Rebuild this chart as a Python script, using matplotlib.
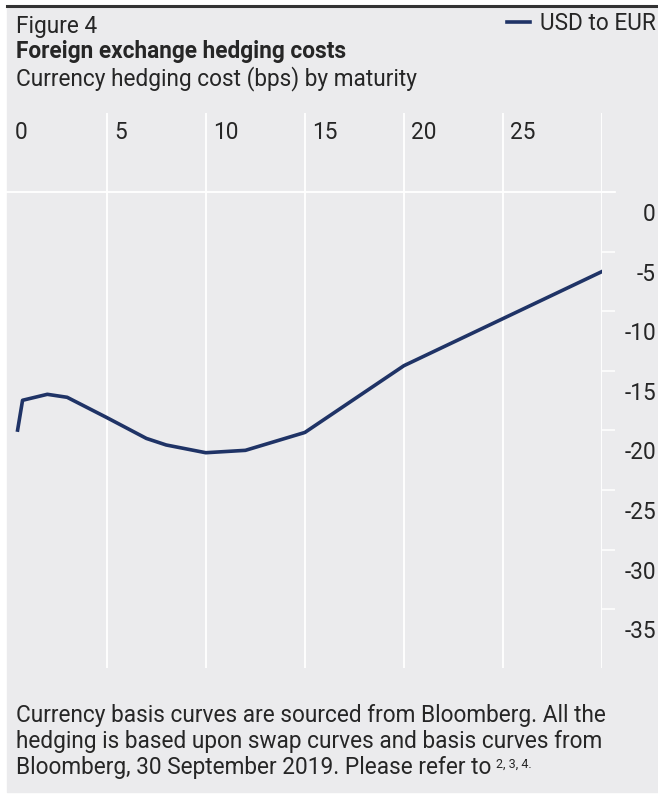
import numpy as np
import matplotlib
matplotlib.use("Agg")
import matplotlib.pyplot as plt
from matplotlib.patches import Rectangle
from matplotlib.lines import Line2D
from matplotlib.transforms import ScaledTranslation

# data
maturity = [0.5, 0.75, 2, 3, 5, 7, 8, 10, 12, 15, 20, 30]
usd_eur = [-18.3, -15.8, -15.3, -15.55, -17.25, -19.0, -19.55, -20.2, -20.0, -18.5, -12.9, -5.0]
series_name = "USD to EUR"
x_ticks = [0, 5, 10, 15, 20, 25, 30]
x_tick_labels = ["0", "5", "10", "15", "20", "25", ""]
y_ticks = [0, -5, -10, -15, -20, -25, -30, -35]

plt.rcParams["font.family"] = ["Roboto", "DejaVu Sans"]
plt.rcParams["axes.unicode_minus"] = False

W, H = 658, 796
BG = "#ebebed"
NAVY = "#1f3366"
TXT = "#262626"
FS = 16.3


def fx(px):
    return px / W


def fy(py):
    return 1 - py / H


fig = plt.figure(figsize=(W / 100, H / 100), dpi=100)

# grey panel and dark rule on top
fig.patches.append(Rectangle((fx(7), fy(792)), 1 - fx(7), fy(7) - fy(792),
                             transform=fig.transFigure, color=BG, zorder=-10))
fig.add_artist(Line2D([fx(7), 1], [fy(5.8), fy(5.8)], color="#333333", lw=2.2))

ax = fig.add_axes([fx(7.7), fy(668), fx(602) - fx(7.7), fy(113) - fy(668)])
ax.set_zorder(1)
ax.set_facecolor("none")
line, = ax.plot(maturity, usd_eur, color=NAVY, lw=2.6, zorder=3)

ax.set_xlim(0, 30)
ax.set_ylim(-38.26, 8.3)
for s in ax.spines.values():
    s.set_visible(False)

# x axis: labels inside the top band
ax.set_xticks(x_ticks)
ax.set_xticklabels(x_tick_labels)
ax.xaxis.tick_top()
ax.tick_params(axis="x", length=0, pad=0, labelsize=FS, labelcolor=TXT)
ax.grid(axis="x", color="white", lw=1.3)
ax.xaxis.get_major_ticks()[0].gridline.set_visible(False)
for lbl in ax.get_xticklabels():
    lbl.set_ha("left")
    lbl.set_va("baseline")
    lbl.set_transform(lbl.get_transform() +
                      ScaledTranslation(7.5 / 100, -26.3 / 100, fig.dpi_scale_trans))

# y axis on the right, tick marks sit between the labels
ax.yaxis.tick_right()
ax.set_yticks(y_ticks)
ax.tick_params(axis="y", which="major", length=0, pad=54 * 0.72,
               labelsize=FS, labelcolor=TXT)
for lbl in ax.get_yticklabels():
    lbl.set_ha("right")
ax.set_yticks(np.array(y_ticks) + 5 / 3, minor=True)
ax.tick_params(axis="y", which="minor", left=False, right=True, direction="out",
               length=9.4, width=1.1, color="white")
ax.axhline(5 / 3, xmin=-0.002, xmax=(615 - 7.7) / (602 - 7.7), color="white",
           lw=1.3, clip_on=False)

# titles
fig.text(fx(15.5), fy(33.3), "Figure 4", fontsize=FS, va="baseline", color=TXT)
fig.text(fx(15.5), fy(58.3), "Foreign exchange hedging costs", fontsize=FS,
         weight="bold", va="baseline", color=TXT)
fig.text(fx(15.5), fy(85), "Currency hedging cost (bps) by maturity", fontsize=FS,
         va="baseline", color=TXT)

fig.legend([line], [series_name], loc="upper right", bbox_to_anchor=(fx(656), fy(12)),
           frameon=False, fontsize=FS, handlelength=1.0, handletextpad=0.45,
           borderpad=0, borderaxespad=0, labelcolor=TXT)

# footnote
fig.text(fx(15.5), fy(722.3), "Currency basis curves are sourced from Bloomberg. All the",
         fontsize=FS, va="baseline", color=TXT)
fig.text(fx(15.5), fy(748), "hedging is based upon swap curves and basis curves from",
         fontsize=FS, va="baseline", color=TXT)
t3 = fig.text(fx(15.5), fy(774), "Bloomberg, 30 September 2019. Please refer to",
              fontsize=FS, va="baseline", color=TXT)
ax.annotate("2, 3, 4.", xy=(1, 1), xycoords=t3, xytext=(4, -1),
            textcoords="offset points", ha="left", va="top", fontsize=9, color=TXT,
            annotation_clip=False)

fig.savefig("out.png", dpi=100)
